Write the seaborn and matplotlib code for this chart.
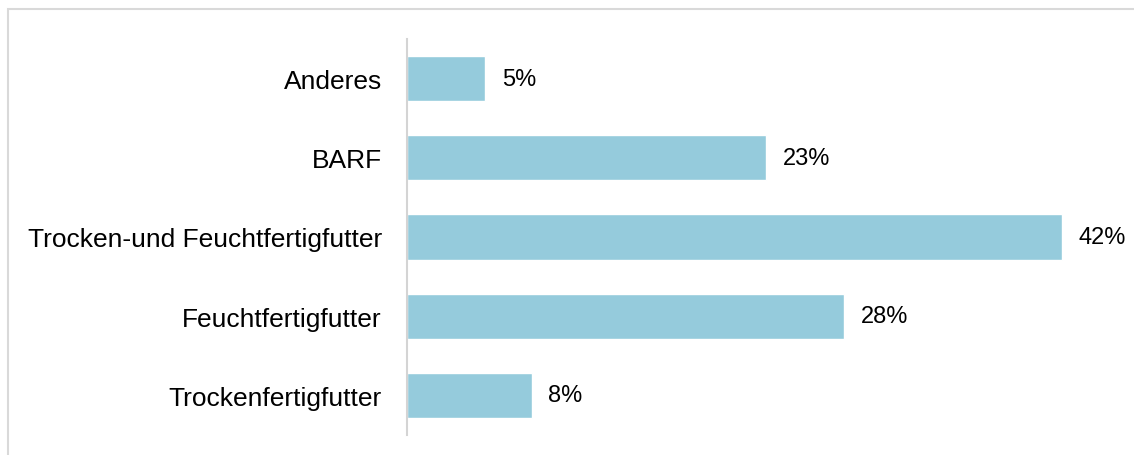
import matplotlib
matplotlib.use("Agg")
import matplotlib.pyplot as plt
import seaborn as sns
import pandas as pd
from matplotlib.patches import Rectangle

categories = ["Anderes", "BARF", "Trocken-und Feuchtfertigfutter",
              "Feuchtfertigfutter", "Trockenfertigfutter"]
shares = [5, 23, 42, 28, 8]

df = pd.DataFrame({"Kategorie": categories, "Anteil": shares})

sns.set_theme(style="white")
plt.rcParams["font.family"] = ["Liberation Sans", "DejaVu Sans"]

fig = plt.figure(figsize=(11.34, 4.56), dpi=100)
W, H = 1134, 456
ax = fig.add_axes([407 / W, 1 - 436 / H, (1109 - 407) / W, (436 - 40) / H])

sns.barplot(data=df, x="Anteil", y="Kategorie", orient="h",
            color="#95CBDC", saturation=1, width=0.57, ax=ax)

ax.set_xlim(0, 45)
ax.set_ylim(4.5, -0.5)
ax.set_xlabel("")
ax.set_ylabel("")
ax.set_xticks([])
ax.tick_params(axis="y", length=0, pad=18, labelsize=19, labelcolor="black")

for side in ["top", "right", "bottom"]:
    ax.spines[side].set_visible(False)
ax.spines["left"].set_color("#d4d4d4")
ax.spines["left"].set_linewidth(1.5)

ax.bar_label(ax.containers[0], labels=[f"{v}%" for v in shares],
             padding=12, fontsize=17, color="black")

# light frame around the chart area
fig.patches.append(Rectangle((8 / W, -0.1), 1.2, 1 - 10 / H + 0.1,
                             transform=fig.transFigure, fill=False,
                             edgecolor="#d9d9d9", linewidth=1.5))

fig.savefig("out.png", dpi=100)
